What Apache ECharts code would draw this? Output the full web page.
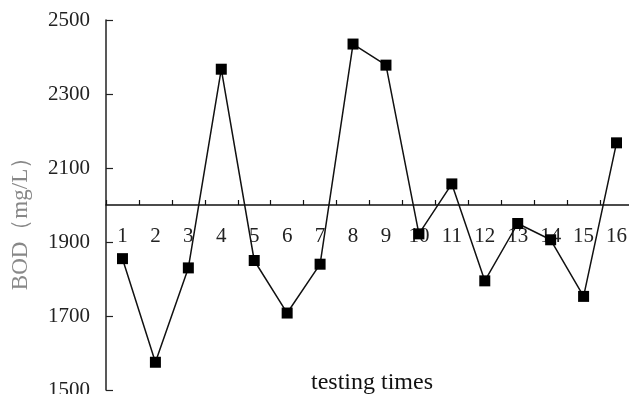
<!DOCTYPE html>
<html>
<head>
<meta charset="utf-8">
<script src="https://cdn.jsdelivr.net/npm/echarts@6/dist/echarts.min.js"></script>
<style>
html,body{margin:0;padding:0;background:#fff;}
#chart{width:629px;height:394px;}
</style>
</head>
<body>
<div id="chart"></div>
<script>
const categories = ['1','2','3','4','5','6','7','8','9','10','11','12','13','14','15','16'];
const bodValues = [1855, 1575, 1830, 2367, 1850, 1708, 1840, 2435, 2378, 1922, 2057, 1795, 1950, 1906, 1753, 2168];
const yMin = 1500, yMax = 2500, yStep = 200;
const xAxisCross = 2000;
const xTitle = 'testing times';
const yTitle = 'BOD（mg/L）';

const gridTop = 20, gridBottom = 4;
const gridH = 394 - gridTop - gridBottom;
const xOffset = -((xAxisCross - yMin) / (yMax - yMin)) * gridH;
const serif = '"Liberation Serif", "Times New Roman", serif';

const chart = echarts.init(document.getElementById('chart'), null, {renderer: 'canvas'});
chart.setOption({
  animation: false,
  backgroundColor: '#fff',
  grid: {left: 106, right: -4, top: gridTop, bottom: gridBottom, containLabel: false, outerBoundsMode: 'none'},
  title: {
    text: xTitle, left: 306, top: 366,
    textStyle: {fontFamily: serif, fontSize: 24, fontWeight: 'normal', color: '#111'}
  },
  graphic: [{
    type: 'text', x: 21, y: 218, rotation: Math.PI / 2,
    style: {text: yTitle, fill: '#888', font: '23px ' + serif, textAlign: 'center', textVerticalAlign: 'middle'}
  }],
  xAxis: {
    type: 'category', data: categories, boundaryGap: true, position: 'bottom', offset: xOffset,
    axisLine: {show: true, onZero: false, lineStyle: {color: '#111', width: 1.5}},
    axisTick: {show: true, inside: true, length: 5, alignWithLabel: false, lineStyle: {color: '#111', width: 1.2}},
    axisLabel: {margin: 21, fontFamily: serif, fontSize: 21, color: '#222', interval: 0},
    splitLine: {show: false}
  },
  yAxis: {
    type: 'value', min: yMin, max: yMax, interval: yStep,
    axisLine: {show: true, lineStyle: {color: '#222', width: 1.5}},
    axisTick: {show: true, inside: true, length: 7, lineStyle: {color: '#222', width: 1.2}},
    axisLabel: {margin: 16, fontFamily: serif, fontSize: 21, color: '#222', formatter: v => String(v)},
    splitLine: {show: false}
  },
  series: [{
    type: 'line', data: bodValues,
    symbol: 'rect', symbolSize: 11,
    itemStyle: {color: '#000'},
    lineStyle: {color: '#111', width: 1.5}
  }]
});
</script>
</body>
</html>
